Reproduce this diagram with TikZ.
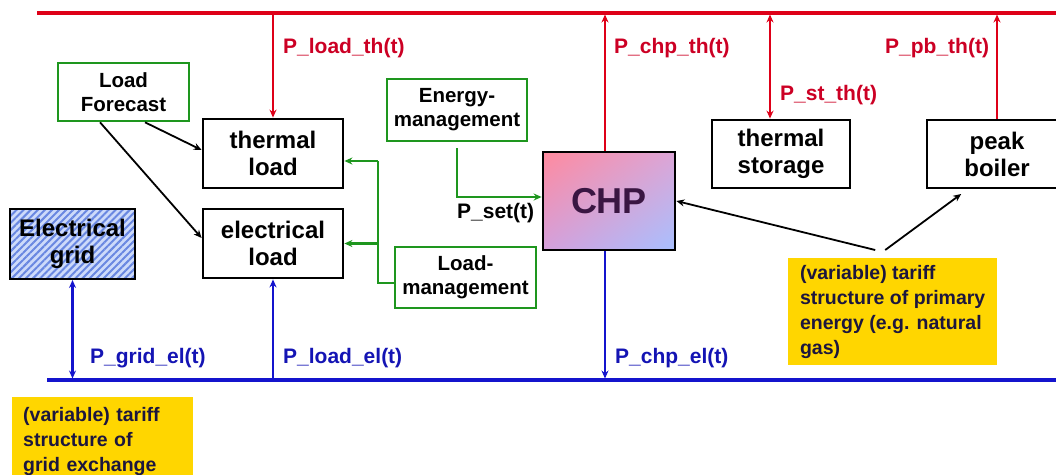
\documentclass[tikz,border=0pt]{standalone}
\usepackage{fontspec}
\setmainfont{Liberation Sans}
\usetikzlibrary{arrows.meta,patterns.meta,shadings}
\definecolor{rd}{RGB}{222,0,24}
\definecolor{rdtxt}{RGB}{204,0,36}
\definecolor{bl}{RGB}{20,20,205}
\definecolor{bltxt}{RGB}{20,20,180}
\definecolor{gr}{RGB}{30,150,30}
\definecolor{yl}{RGB}{255,214,0}
\definecolor{yltxt}{RGB}{28,22,62}
\definecolor{egfill}{RGB}{205,218,250}
\definecolor{egline}{RGB}{105,135,225}
\definecolor{chpA}{RGB}{255,138,158}
\definecolor{chpB}{RGB}{220,165,215}
\definecolor{chpD}{RGB}{212,160,220}
\definecolor{chpC}{RGB}{168,192,255}
\definecolor{chptxt}{RGB}{58,22,66}
\begin{document}
\begin{tikzpicture}[x=1pt,y=-1pt,
  bx/.style={draw=black, line width=2.8pt, inner sep=0pt, align=center,
    font=\fontsize{24}{27}\selectfont\bfseries},
  gbx/.style={draw=gr, line width=2.6pt, inner sep=0pt, align=center,
    font=\fontsize{20.5}{24}\selectfont\bfseries},
  lbl/.style={anchor=west, inner sep=0pt, font=\fontsize{21}{24}\selectfont\bfseries},
  ybx/.style={fill=yl, anchor=north west, align=left, inner xsep=11pt, inner ysep=0pt,
    font=\fontsize{19.5}{25}\selectfont\bfseries, text=yltxt},
  tip/.style={-{Stealth[length=8pt,width=7pt]}},
  tips/.style={{Stealth[length=8pt,width=7pt]}-{Stealth[length=8pt,width=7pt]}},
  bus/.style={line width=3.8pt},
  flow/.style={line width=2.7pt},
  thin arrow/.style={black, line width=1.8pt, tip}
]
\useasboundingbox (0,0) rectangle (1056,474);
\clip (0,0) rectangle (1056,474);

% boxes
\node[gbx, minimum width=131pt, minimum height=58pt] (LF) at (123.5,92) {Load\\Forecast};
\node[bx, minimum width=140pt, minimum height=69pt] (TL) at (273,153.5) {thermal\\load};
\node[bx, minimum width=140pt, minimum height=69pt] (EL) at (273,243.5) {electrical\\load};
\node[bx, minimum width=125pt, minimum height=70pt, preaction={fill=egfill},
  pattern={Lines[angle=45,distance=5pt,line width=2pt]}, pattern color=egline] (EG) at (72.5,244) {Electrical\\grid};
\node[gbx, minimum width=140pt, minimum height=62pt] (EM) at (457,110) {Energy-\\management};
\node[gbx, minimum width=141pt, minimum height=61pt] (LM) at (465.5,277.5) {Load-\\management};
\node[draw=black, line width=2.8pt, inner sep=0pt, minimum width=132pt, minimum height=98pt,
  upper left=chpA, upper right=chpB, lower left=chpD, lower right=chpC,
  text=chptxt, font=\fontsize{36}{40}\selectfont\bfseries] (CHP) at (609,201) {CHP};
\node[bx, minimum width=138pt, minimum height=68pt] (TS) at (781,154) {thermal\\storage};
\node[bx, minimum width=140pt, minimum height=68pt] (PB) at (997,154) {peak\\boiler};
\node[ybx, minimum width=209pt, minimum height=107pt] (Y1) at (788,258)
  {(variable) tariff\\structure of primary\\energy (e.g. natural\\gas)};
\node[ybx, minimum width=181pt, minimum height=88pt, text width=159pt] (Y2) at (12,397)
  {(variable) tariff\\structure of\\grid exchange};

% buses
\coordinate (rL) at (37,13);
\coordinate (rR) at (1060,13);
\coordinate (bL) at (47,380);
\coordinate (bR) at (1060,380);
\draw[rd, bus] (rL) -- (rR);
\draw[bl, bus] (bL) -- (bR);

% thermal flows
\coordinate (chpN) at ([xshift=-4pt]CHP.north);
\coordinate (chpS) at ([xshift=-4pt]CHP.south);
\coordinate (tsN) at ([xshift=-11pt]TS.north);
\draw[rd, flow, tip, shorten <=1.5pt] (TL.north |- rL) -- (TL.north);
\draw[rd, flow, tip, shorten >=1.5pt] (chpN) -- (chpN |- rL);
\draw[rd, flow, tips, shorten >=1.5pt] (tsN) -- (tsN |- rL);
\draw[rd, flow, tip, shorten >=1.5pt] (PB.north) -- (PB.north |- rL);
\node[lbl, text=rdtxt] (lLT) at (283,48) {P\_load\_th(t)};
\node[lbl, text=rdtxt] (lCT) at (614,48) {P\_chp\_th(t)};
\node[lbl, text=rdtxt] (lST) at (780,95) {P\_st\_th(t)};
\node[lbl, text=rdtxt] (lPT) at (885,48) {P\_pb\_th(t)};

% electrical flows
\draw[bl, flow, tips, shorten >=1.5pt] (EG.south) -- (EG.south |- bL);
\draw[bl, flow, tip, shorten <=1.5pt] (EL.south |- bL) -- (EL.south);
\draw[bl, flow, tip, shorten >=1.5pt] (chpS) -- (chpS |- bL);
\node[lbl, text=bltxt] (lGE) at (90,358) {P\_grid\_el(t)};
\node[lbl, text=bltxt] (lLE) at (283,358) {P\_load\_el(t)};
\node[lbl, text=bltxt] (lCE) at (615,358) {P\_chp\_el(t)};

% control flows
\coordinate (emS) at ([yshift=-6pt]EM.south);
\coordinate (chpW) at ([yshift=4pt]CHP.west);
\draw[gr, flow, tip] (emS) |- (chpW);
\node[lbl, text=black] (lSet) at (457,213) {P\_set(t)};
\coordinate (lmW) at ([yshift=-5.5pt]LM.west);
\coordinate (jt) at (378,161);
\coordinate (je) at (378,243.5);
\draw[gr, flow] (lmW) -| (jt);
\draw[gr, flow, tip] (jt) -- (jt -| TL.east);
\draw[gr, flow, tip] (je) -- (EL.east);

% information arrows
\draw[thin arrow] ([xshift=21.5pt]LF.south) -- ([yshift=3.5pt]TL.west);
\draw[thin arrow] ([xshift=-23.5pt]LF.south) -- ([yshift=5.5pt]EL.west);
\draw[thin arrow] ([xshift=-17.5pt,yshift=8pt]Y1.north) -- (CHP.east);
\draw[thin arrow, shorten >=1pt] ([xshift=-7.5pt,yshift=8pt]Y1.north) -- ([xshift=-35pt,yshift=-4pt]PB.south);
\end{tikzpicture}
\end{document}
